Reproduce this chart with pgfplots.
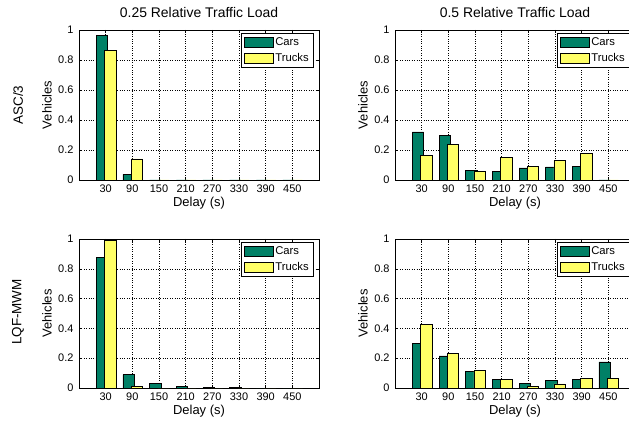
\documentclass[border=0pt]{standalone}
\usepackage{pgfplots}
\pgfplotsset{compat=1.18}
\usepackage{fontspec}
\setmainfont{Liberation Sans}
\definecolor{cargreen}{RGB}{0,128,102}
\definecolor{truckyellow}{RGB}{255,255,102}
\pgfplotsset{
  mybase/.style={
    scale only axis,
    width=240bp,
    xmin=0, xmax=9, ymin=0, ymax=1,
    xtick={1,...,8},
    xticklabels={30,90,150,210,270,330,390,450},
    ytick={0,0.2,0.4,0.6,0.8,1},
    yticklabels={0,0.2,0.4,0.6,0.8,1},
    /pgf/number format/assume math mode=true,
    tick align=inside,
    major tick length=3bp,
    axis line style={line width=0.6bp},
    every tick/.style={black, line width=0.5bp},
    grid=major,
    major grid style={black, dotted, line width=0.5bp},
    tick label style={font=\fontsize{11}{13}\selectfont},
    xticklabel style={anchor=center, yshift=-9bp},
    yticklabel style={anchor=east, xshift=-2bp},
    xlabel={Delay (s)},
    ylabel={Vehicles},
    label style={font=\fontsize{13}{15}\selectfont},
    xlabel style={at={(axis description cs:0.5,0)}, anchor=center, yshift=-23bp},
    ylabel style={at={(axis description cs:-0.1333,0.5)}, anchor=center},
    title style={at={(axis description cs:0.5,1)}, anchor=center, yshift=12bp, font=\fontsize{14}{16}\selectfont},
    legend style={at={(axis description cs:1,1)}, anchor=north east, xshift=-5bp, yshift=-3bp,
      draw=black, line width=0.6bp, font=\fontsize{11.3}{12}\selectfont,
      inner xsep=3bp, inner ysep=2.5bp, row sep=2bp, cells={anchor=west}},
    clip=false,
  },
  carbar/.style={ybar, bar width=0.42, bar shift=-0.14, fill=cargreen, draw=black, line width=0.5bp,
    legend image code/.code={\draw[fill=cargreen, draw=black, line width=0.5bp] (0bp,-5bp) rectangle (29bp,5bp);}},
  truckbar/.style={ybar, bar width=0.42, bar shift=0.17, fill=truckyellow, draw=black, line width=0.5bp,
    legend image code/.code={\draw[fill=truckyellow, draw=black, line width=0.5bp] (0bp,-5bp) rectangle (29bp,5bp);}},
}
\begin{document}
\begin{tikzpicture}
\useasboundingbox (0,0) rectangle (629bp,424bp);
% top left
\begin{axis}[mybase, at={(79bp,244bp)}, anchor=south west, height=150bp,
  title={0.25 Relative Traffic Load}]
\addplot[carbar] coordinates {(1,0.965) (2,0.037) (3,0) (4,0) (5,0) (6,0) (7,0) (8,0)};
\addplot[truckbar] coordinates {(1,0.865) (2,0.14) (3,0) (4,0) (5,0) (6,0) (7,0) (8,0)};
\legend{Cars,Trucks}
\end{axis}
% top right
\begin{axis}[mybase, at={(395bp,244bp)}, anchor=south west, height=150bp,
  title={0.5 Relative Traffic Load}]
\addplot[carbar] coordinates {(1,0.32) (2,0.298) (3,0.065) (4,0.058) (5,0.08) (6,0.087) (7,0.093) (8,0)};
\addplot[truckbar] coordinates {(1,0.163) (2,0.238) (3,0.058) (4,0.149) (5,0.089) (6,0.131) (7,0.178) (8,0)};
\legend{Cars,Trucks}
\end{axis}
% bottom left
\begin{axis}[mybase, at={(79bp,36bp)}, anchor=south west, height=149bp]
\addplot[carbar] coordinates {(1,0.877) (2,0.089) (3,0.029) (4,0.011) (5,0.002) (6,0.002) (7,0) (8,0)};
\addplot[truckbar] coordinates {(1,0.99) (2,0.013) (3,0) (4,0) (5,0) (6,0) (7,0) (8,0)};
\legend{Cars,Trucks}
\end{axis}
% bottom right
\begin{axis}[mybase, at={(395bp,36bp)}, anchor=south west, height=149bp]
\addplot[carbar] coordinates {(1,0.298) (2,0.216) (3,0.114) (4,0.056) (5,0.033) (6,0.051) (7,0.06) (8,0.176)};
\addplot[truckbar] coordinates {(1,0.428) (2,0.234) (3,0.118) (4,0.06) (5,0.009) (6,0.027) (7,0.067) (8,0.067)};
\legend{Cars,Trucks}
\end{axis}
\node[rotate=90, font=\fontsize{13.5}{15}\selectfont] at (18bp,319bp) {ASC/3};
\node[rotate=90, font=\fontsize{13.5}{15}\selectfont] at (18bp,112bp) {LQF-MWM};
\end{tikzpicture}
\end{document}
